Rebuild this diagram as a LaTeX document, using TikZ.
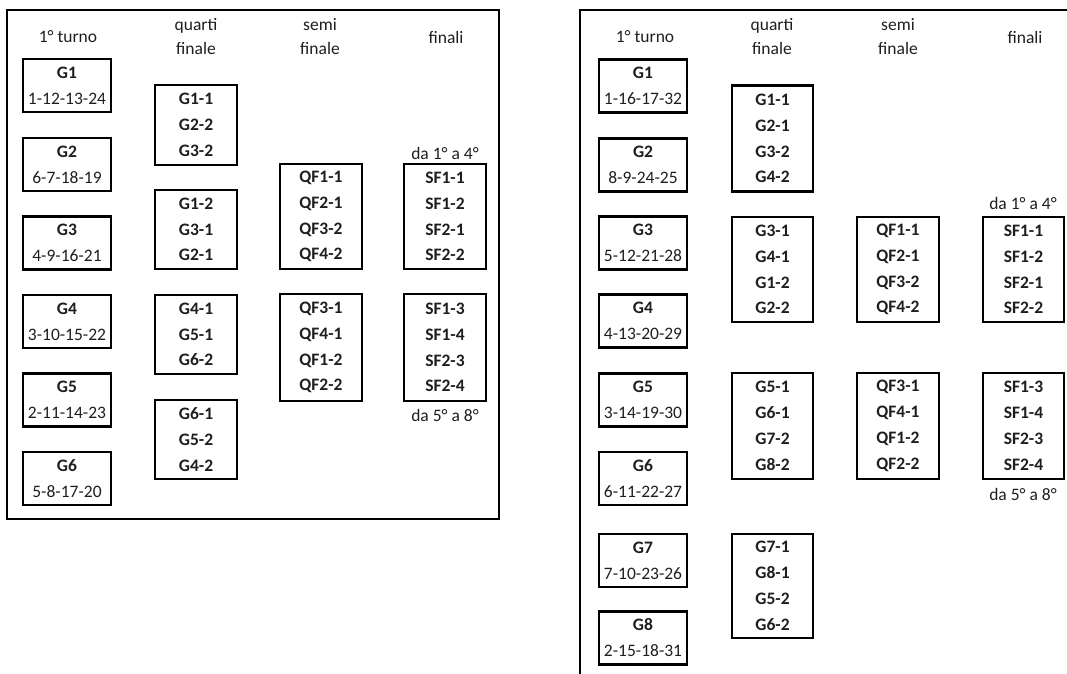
\documentclass[tikz,border=0pt]{standalone}
\usepackage{fontspec}
\setmainfont{Carlito}
\definecolor{txt}{HTML}{1E1E1E}
\begin{document}
\begin{tikzpicture}[x=1pt,y=-1pt,
  frame/.style={line width=2.6pt, black},
  boxg/.style={draw=black, line width=2.6pt, rectangle, inner sep=0pt,
    minimum width=88pt, minimum height=53pt, align=center, text=txt,
    font=\fontsize{17.5}{26}\selectfont},
  boxq/.style={draw=black, line width=2.6pt, rectangle, inner sep=0pt,
    minimum width=82pt, align=center, text=txt,
    font=\fontsize{17.5}{25.8}\selectfont\bfseries},
  head/.style={align=center, text=txt, inner sep=0pt,
    font=\fontsize{17.5}{24}\selectfont},
  lab/.style={text=txt, inner sep=0pt, font=\fontsize{17.5}{20}\selectfont}]
\useasboundingbox (0,0) rectangle (1067,673);
\begin{scope}
\clip (0,0) rectangle (1067,673);
% ---------------- left panel ----------------
\draw[frame] (7,10) rectangle (499,519);
\node[head] (Lh1) at (68,37) {1° turno};
\node[head] (Lh2) at (196,37) {quarti\\finale};
\node[head] (Lh3) at (320,37) {semi\\finale};
\node[head] (Lh4) at (446,37) {finali};

\node[boxg] (Lg1) at (67,85.5) {\textbf{G1}\\1-12-13-24};
\node[boxg] (Lg2) at (67,164.5) {\textbf{G2}\\6-7-18-19};
\node[boxg] (Lg3) at (67,243) {\textbf{G3}\\4-9-16-21};
\node[boxg] (Lg4) at (67,321.5) {\textbf{G4}\\3-10-15-22};
\node[boxg] (Lg5) at (67,400) {\textbf{G5}\\2-11-14-23};
\node[boxg] (Lg6) at (67,478.5) {\textbf{G6}\\5-8-17-20};

\node[boxq, minimum height=80pt] (Lq1) at (196,125) {G1-1\\G2-2\\G3-2};
\node[boxq, minimum height=79pt] (Lq2) at (196,229.5) {G1-2\\G3-1\\G2-1};
\node[boxq, minimum height=79pt] (Lq3) at (196,334.5) {G4-1\\G5-1\\G6-2};
\node[boxq, minimum height=79pt] (Lq4) at (196,439.5) {G6-1\\G5-2\\G4-2};

\node[boxq, minimum height=105pt] (Ls1) at (321,216.5) {QF1-1\\QF2-1\\QF3-2\\QF4-2};
\node[boxq, minimum height=107pt] (Ls2) at (321,347.5) {QF3-1\\QF4-1\\QF1-2\\QF2-2};

\node[boxq, minimum height=105pt] (Lf1) at (445,216.5) {SF1-1\\SF1-2\\SF2-1\\SF2-2};
\node[boxq, minimum height=107pt] (Lf2) at (445,347.5) {SF1-3\\SF1-4\\SF2-3\\SF2-4};
\node[lab] (Ll1) at (445,153) {da 1° a 4°};
\node[lab] (Ll2) at (445,415) {da 5° a 8°};

% ---------------- right panel ----------------
\coordinate (Rb) at (580,690);
\coordinate (Rc) at (580,10);
\coordinate (Rr) at (1080,10);
\draw[frame] (Rb) -- (Rc) -- (Rr);
\node[head] (Rh1) at (645,37) {1° turno};
\node[head] (Rh2) at (772,37) {quarti\\finale};
\node[head] (Rh3) at (898,37) {semi\\finale};
\node[head] (Rh4) at (1025,37) {finali};

\node[boxg] (Rg1) at (643,86) {\textbf{G1}\\1-16-17-32};
\node[boxg] (Rg2) at (643,165) {\textbf{G2}\\8-9-24-25};
\node[boxg] (Rg3) at (643,243) {\textbf{G3}\\5-12-21-28};
\node[boxg] (Rg4) at (643,321) {\textbf{G4}\\4-13-20-29};
\node[boxg] (Rg5) at (643,400) {\textbf{G5}\\3-14-19-30};
\node[boxg] (Rg6) at (643,478.5) {\textbf{G6}\\6-11-22-27};
\node[boxg] (Rg7) at (643,560.5) {\textbf{G7}\\7-10-23-26};
\node[boxg] (Rg8) at (643,638) {\textbf{G8}\\2-15-18-31};

\node[boxq, minimum width=81pt, minimum height=106pt] (Rq1) at (772.5,138.5) {G1-1\\G2-1\\G3-2\\G4-2};
\node[boxq, minimum width=81pt, minimum height=105pt] (Rq2) at (772.5,269.5) {G3-1\\G4-1\\G1-2\\G2-2};
\node[boxq, minimum width=81pt, minimum height=106pt] (Rq3) at (772.5,426) {G5-1\\G6-1\\G7-2\\G8-2};
\node[boxq, minimum width=81pt, minimum height=104pt] (Rq4) at (772.5,586) {G7-1\\G8-1\\G5-2\\G6-2};

\node[boxq, minimum height=105pt] (Rs1) at (898,269.5) {QF1-1\\QF2-1\\QF3-2\\QF4-2};
\node[boxq, minimum height=106pt] (Rs2) at (898,426) {QF3-1\\QF4-1\\QF1-2\\QF2-2};

\node[boxq, minimum width=81pt, minimum height=105pt] (Rf1) at (1023.5,269.5) {SF1-1\\SF1-2\\SF2-1\\SF2-2};
\node[boxq, minimum width=81pt, minimum height=106pt] (Rf2) at (1023.5,426) {SF1-3\\SF1-4\\SF2-3\\SF2-4};
\node[lab] (Rl1) at (1023,203) {da 1° a 4°};
\node[lab] (Rl2) at (1023,494) {da 5° a 8°};
\end{scope}
\end{tikzpicture}
\end{document}
